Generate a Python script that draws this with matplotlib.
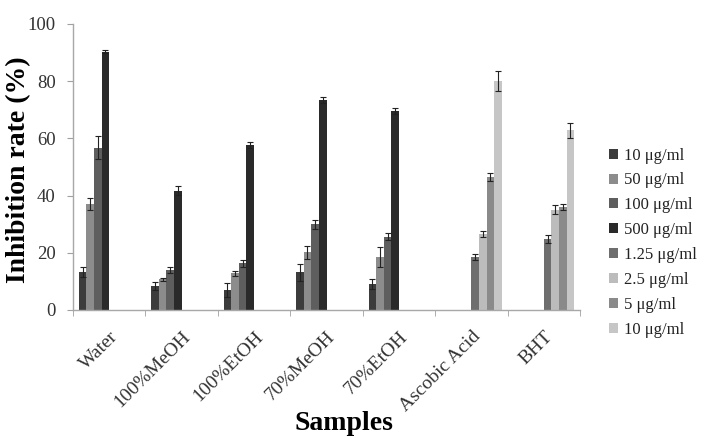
import numpy as np
import matplotlib
matplotlib.use("Agg")
import matplotlib.pyplot as plt

plt.rcParams['font.family'] = ['Liberation Serif', 'DejaVu Serif']

samples = ['Water', '100%MeOH', '100%EtOH', '70%MeOH', '70%EtOH', 'Ascobic Acid', 'BHT']
series = ['10 \u03bcg/ml', '50 \u03bcg/ml', '100 \u03bcg/ml', '500 \u03bcg/ml',
          '1.25 \u03bcg/ml', '2.5 \u03bcg/ml', '5 \u03bcg/ml', '10 \u03bcg/ml']
colors = ['#3c3c3c', '#8c8c8c', '#5e5e5e', '#2a2a2a',
          '#6e6e6e', '#bcbcbc', '#8a8a8a', '#c6c6c6']

# values per series, one per sample (nan = not measured)
nan = np.nan
s10 = [13.4, 8.4, 7.0, 13.2, 9.1, nan, nan]
s50 = [37.1, 10.8, 12.8, 20.2, 18.6, nan, nan]
s100 = [56.8, 14.0, 16.3, 30.0, 25.6, nan, nan]
s500 = [90.3, 41.7, 57.7, 73.4, 69.7, nan, nan]
s1_25 = [nan, nan, nan, nan, nan, 18.6, 24.8]
s2_5 = [nan, nan, nan, nan, nan, 26.6, 35.0]
s5 = [nan, nan, nan, nan, nan, 46.4, 35.9]
s10b = [nan, nan, nan, nan, nan, 80.0, 62.9]

e10 = [1.7, 1.3, 2.5, 3.0, 1.6, nan, nan]
e50 = [2.0, 0.5, 0.8, 2.2, 3.4, nan, nan]
e100 = [4.0, 0.9, 1.2, 1.6, 1.2, nan, nan]
e500 = [0.5, 1.5, 1.0, 1.0, 1.0, nan, nan]
e1_25 = [nan, nan, nan, nan, nan, 1.0, 1.4]
e2_5 = [nan, nan, nan, nan, nan, 1.0, 1.6]
e5 = [nan, nan, nan, nan, nan, 1.4, 1.0]
e10b = [nan, nan, nan, nan, nan, 3.5, 2.6]

vals = [s10, s50, s100, s500, s1_25, s2_5, s5, s10b]
errs = [e10, e50, e100, e500, e1_25, e2_5, e5, e10b]

fig = plt.figure(figsize=(7.04, 4.38), dpi=100)
ax = fig.add_axes([73/704, 1-310/438, 507/704, 286/438])

x = np.arange(len(samples))
w = 0.105
for i, (v, e) in enumerate(zip(vals, errs)):
    pos = x + (i - 3.5) * w
    ax.bar(pos, v, w, color=colors[i], label=series[i], edgecolor='none',
           yerr=e, error_kw=dict(ecolor='#222222', elinewidth=0.8, capsize=2.2, capthick=0.8))

ax.set_xlim(-0.5, len(samples) - 0.5)
ax.set_ylim(0, 100)
ax.set_yticks([0, 20, 40, 60, 80, 100])
ax.set_xticks(x)
ax.set_xticklabels(samples, rotation=45, ha='right', rotation_mode='anchor', fontsize=14)
ax.set_xticks(np.arange(len(samples) + 1) - 0.5, minor=True)
ax.tick_params(axis='x', which='major', length=0, pad=13)
ax.tick_params(axis='x', which='minor', length=4, color='#a0a0a0', direction='out')
ax.tick_params(axis='y', length=4, color='#a0a0a0', labelsize=13.5, pad=8.5)
for lab in ax.get_xticklabels() + ax.get_yticklabels():
    lab.set_color('#333333')

for s in ['top', 'right']:
    ax.spines[s].set_visible(False)
for s in ['left', 'bottom']:
    ax.spines[s].set_color('#a8a8a8')
    ax.spines[s].set_linewidth(1.0)

fig.text(19/704, 1 - 170/438, 'Inhibition rate (%)', rotation=90, ha='center', va='center',
         fontsize=20, fontweight='bold')
fig.text(344/704, 1 - 423/438, 'Samples', ha='center', va='center',
         fontsize=20, fontweight='bold')

leg = ax.legend(loc='upper left', bbox_to_anchor=(602/704, 1 - 141/438),
                bbox_transform=fig.transFigure, frameon=False, fontsize=12,
                handlelength=0.55, handleheight=0.55, handletextpad=0.4,
                labelspacing=0.53, borderaxespad=0)
for t in leg.get_texts():
    t.set_color('#222222')

fig.savefig('out.png', dpi=100)
